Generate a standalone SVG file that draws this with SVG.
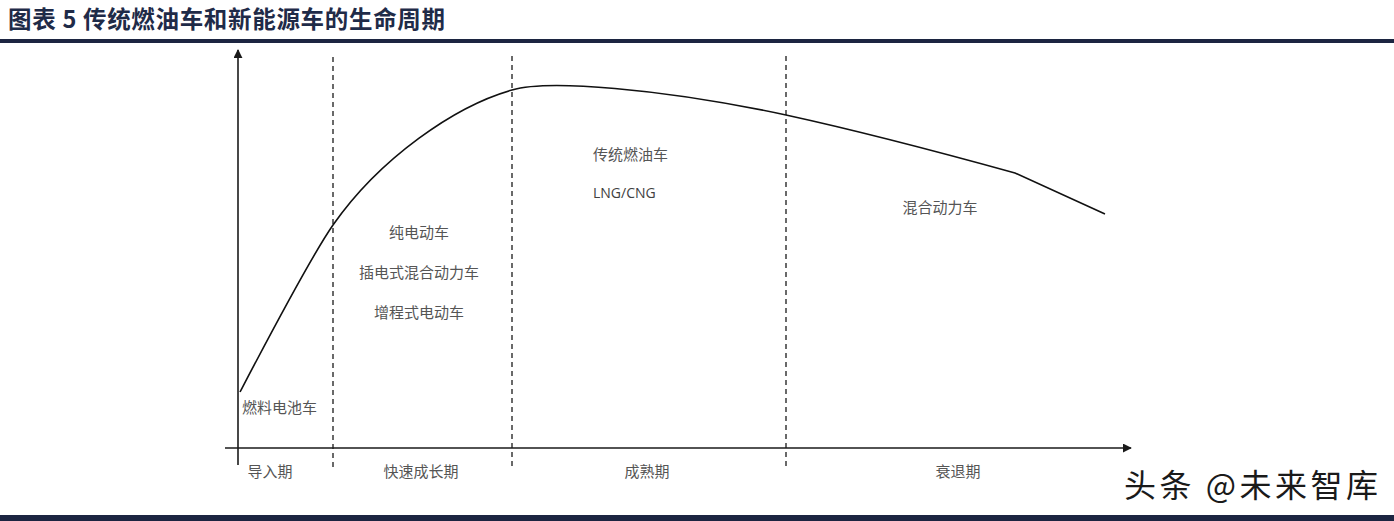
<svg xmlns="http://www.w3.org/2000/svg" width="1394" height="521" viewBox="0 0 1394 521">
  <style>
    .title { font-family: "Noto Sans CJK SC", "Noto Sans", sans-serif; font-weight: 700; font-size: 23.5px; fill: #1f2b48; }
    .lbl { font-family: "Noto Sans CJK SC", "Noto Sans", sans-serif; font-size: 15px; fill: #555555; }
    .lat { font-family: "Open Sans", "Noto Sans", sans-serif; font-size: 14px; fill: #404040; }
    .axis { stroke: #1a1a1a; stroke-width: 1.6; fill: none; }
    .div { stroke: #1a1a1a; stroke-width: 1.3; stroke-dasharray: 5 4; fill: none; }
    .curve { stroke: #111111; stroke-width: 1.6; fill: none; }
    .rule { fill: #1c2541; }
    .wm { font-family: "Noto Sans CJK SC", sans-serif; font-size: 32px; fill: #1a1a1a; }
  </style>
  <defs>
    <marker id="arr" viewBox="0 0 10 10" refX="9" refY="5" markerWidth="9" markerHeight="9" markerUnits="userSpaceOnUse" orient="auto">
      <path d="M0,0 L10,5 L0,10 z" fill="#1a1a1a"/>
    </marker>
  </defs>
  <rect width="1394" height="521" fill="#ffffff"/>

  <g id="header">
    <text class="title" x="8" y="28" textLength="437" lengthAdjust="spacing">图表 5 传统燃油车和新能源车的生命周期</text>
    <rect class="rule" x="0" y="39" width="1394" height="4"/>
  </g>

  <g id="axes">
    <line class="axis" x1="238" y1="465" x2="238" y2="50" marker-end="url(#arr)"/>
    <line class="axis" x1="225" y1="448" x2="1131" y2="448" marker-end="url(#arr)"/>
  </g>

  <g id="connectors">
    <line class="div" x1="333" y1="57" x2="333" y2="468"/>
    <line class="div" x1="512" y1="56" x2="512" y2="467"/>
    <line class="div" x1="786" y1="56" x2="786" y2="467"/>
    <path class="curve" d="M240,392 C262,350 310,258 333,225 C380,158 455,106 512,90 C547,79.5 660,88 786,115 C850,129 950,155 1015,173 L1105,214"/>
  </g>

  <g id="node-fuelcell"><text class="lbl" x="242" y="413">燃料电池车</text></g>
  <g id="node-growth">
    <text class="lbl" x="419" y="238" text-anchor="middle">纯电动车</text>
    <text class="lbl" x="419" y="278" text-anchor="middle">插电式混合动力车</text>
    <text class="lbl" x="419" y="318" text-anchor="middle">增程式电动车</text>
  </g>
  <g id="node-mature">
    <text class="lbl" x="593" y="160">传统燃油车</text>
    <text class="lat" x="593" y="198">LNG/CNG</text>
  </g>
  <g id="node-decline"><text class="lbl" x="940" y="213" text-anchor="middle">混合动力车</text></g>

  <g id="phases">
    <text class="lbl" x="270" y="477" text-anchor="middle">导入期</text>
    <text class="lbl" x="421" y="477" text-anchor="middle">快速成长期</text>
    <text class="lbl" x="647" y="477" text-anchor="middle">成熟期</text>
    <text class="lbl" x="958" y="477" text-anchor="middle">衰退期</text>
  </g>

  <g id="footer">
    <text class="wm" x="1124" y="497" textLength="254" lengthAdjust="spacing">头条 @未来智库</text>
    <rect class="rule" x="0" y="515" width="1394" height="6"/>
  </g>
</svg>
